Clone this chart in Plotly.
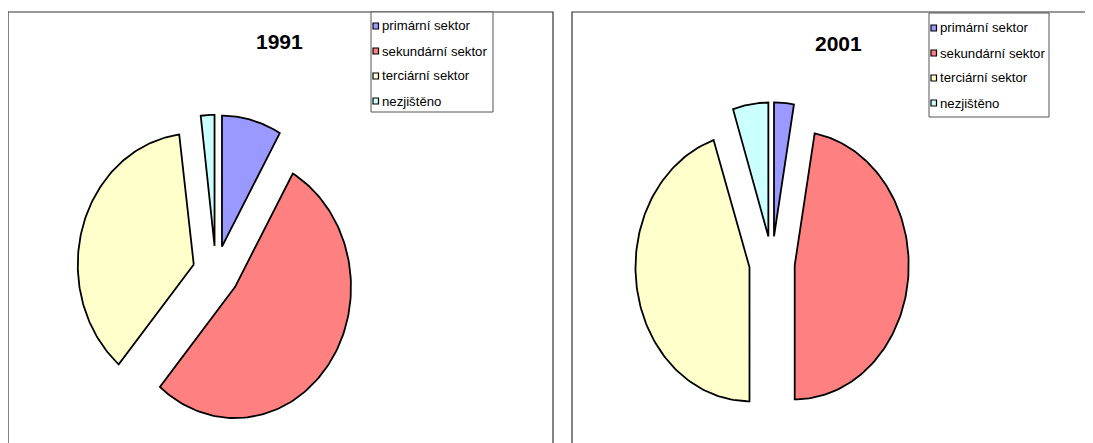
import numpy as np
import plotly.graph_objects as go

# ---- data ----
categories = ["primární sektor", "sekundární sektor", "terciární sektor", "nezjištěno"]
years = ["1991", "2001"]
values_1991 = [8.3, 52.9, 36.8, 2.0]
values_2001 = [2.8, 47.2, 44.9, 5.1]
colors = ["#9999FF", "#FF8080", "#FFFFCC", "#CCFFFF"]

# ---- layout geometry (screen pixels) ----
W, H = 1093, 443
OFF = 8          # page body margin of the written html
TOP = 12
EXPLODE = 0.2
panels = [
    dict(year=years[0], values=values_1991, box=(8, 553), center=(216, 272), r=(116, 131),
         legend=(371, 493, 12, 112), item_y=[26, 51, 76, 101], title=(279.5, 41)),
    dict(year=years[1], values=values_2001, box=(572, W + OFF), center=(772, 263), r=(114, 134),
         legend=(929, 1049, 13, 117), item_y=[28, 53, 78, 103], title=(838, 43)),
]


def px(x):
    return (x - OFF) / W


def py(y):
    return 1 - (y - OFF) / H


fig = go.Figure()
shapes = []
annotations = []
BOTTOM = H + OFF

for i, p in enumerate(panels):
    sfx = "" if i == 0 else str(i + 1)
    x0, x1 = p["box"]
    cx, cy = p["center"]
    rx, ry = p["r"]
    fig.update_layout(**{
        f"xaxis{sfx}": dict(domain=[px(x0), px(x1)], range=[(x0 - cx) / rx, (x1 - cx) / rx],
                            visible=False, fixedrange=True),
        f"yaxis{sfx}": dict(domain=[0, py(TOP)], range=[(cy - BOTTOM) / ry, (cy - TOP) / ry],
                            visible=False, fixedrange=True),
    })
    vals = np.array(p["values"], dtype=float)
    total = vals.sum()
    start = 0.0
    for cat, v, col in zip(categories, vals, colors):
        span = v / total * 360.0
        phis = np.radians(np.linspace(start, start + span, 120))
        mid = np.radians(start + span / 2)
        ox, oy = EXPLODE * np.sin(mid), EXPLODE * np.cos(mid)
        xs = np.concatenate([[ox], np.sin(phis) + ox, [ox]])
        ys = np.concatenate([[oy], np.cos(phis) + oy, [oy]])
        fig.add_trace(go.Scatter(
            x=xs, y=ys, fill="toself", fillcolor=col, mode="lines",
            line=dict(color="black", width=1.8), name=cat, showlegend=False,
            hoverinfo="text", text=f"{p['year']} – {cat}: {v:.1f} %",
            xaxis=f"x{sfx}", yaxis=f"y{sfx}",
        ))
        start += span

    # chart box border
    shapes.append(dict(type="rect", xref="paper", yref="paper",
                       x0=px(x0), x1=px(x1 + (20 if i == 1 else 0)), y0=py(BOTTOM + 20), y1=py(TOP),
                       line=dict(color="#333333", width=1.2), fillcolor="rgba(0,0,0,0)", layer="above"))
    # title
    tx, ty = p["title"]
    annotations.append(dict(xref="paper", yref="paper", x=px(tx), y=py(ty), text=f"<b>{p['year']}</b>",
                            showarrow=False, xanchor="center", yanchor="middle",
                            font=dict(family="Liberation Sans, Arial", size=21, color="black")))
    # legend box
    lx0, lx1, ly0, ly1 = p["legend"]
    shapes.append(dict(type="rect", xref="paper", yref="paper", x0=px(lx0), x1=px(lx1),
                       y0=py(ly1), y1=py(ly0), line=dict(color="#555555", width=1),
                       fillcolor="white", layer="above"))
    for cat, col, yy in zip(categories, colors, p["item_y"]):
        shapes.append(dict(type="rect", xref="paper", yref="paper",
                           x0=px(lx0 + 2), x1=px(lx0 + 7.5), y0=py(yy + 3), y1=py(yy - 3),
                           line=dict(color="black", width=1.2), fillcolor=col, layer="above"))
        annotations.append(dict(xref="paper", yref="paper", x=px(lx0 + 8.5), y=py(yy), text=cat,
                                showarrow=False, xanchor="left", yanchor="middle",
                                font=dict(family="Liberation Sans, Arial", size=13.2, color="black")))

fig.update_layout(
    width=W, height=H, autosize=False,
    margin=dict(l=0, r=0, t=0, b=0),
    paper_bgcolor="white", plot_bgcolor="white",
    shapes=shapes, annotations=annotations, showlegend=False,
)

fig.write_html("out.html")
